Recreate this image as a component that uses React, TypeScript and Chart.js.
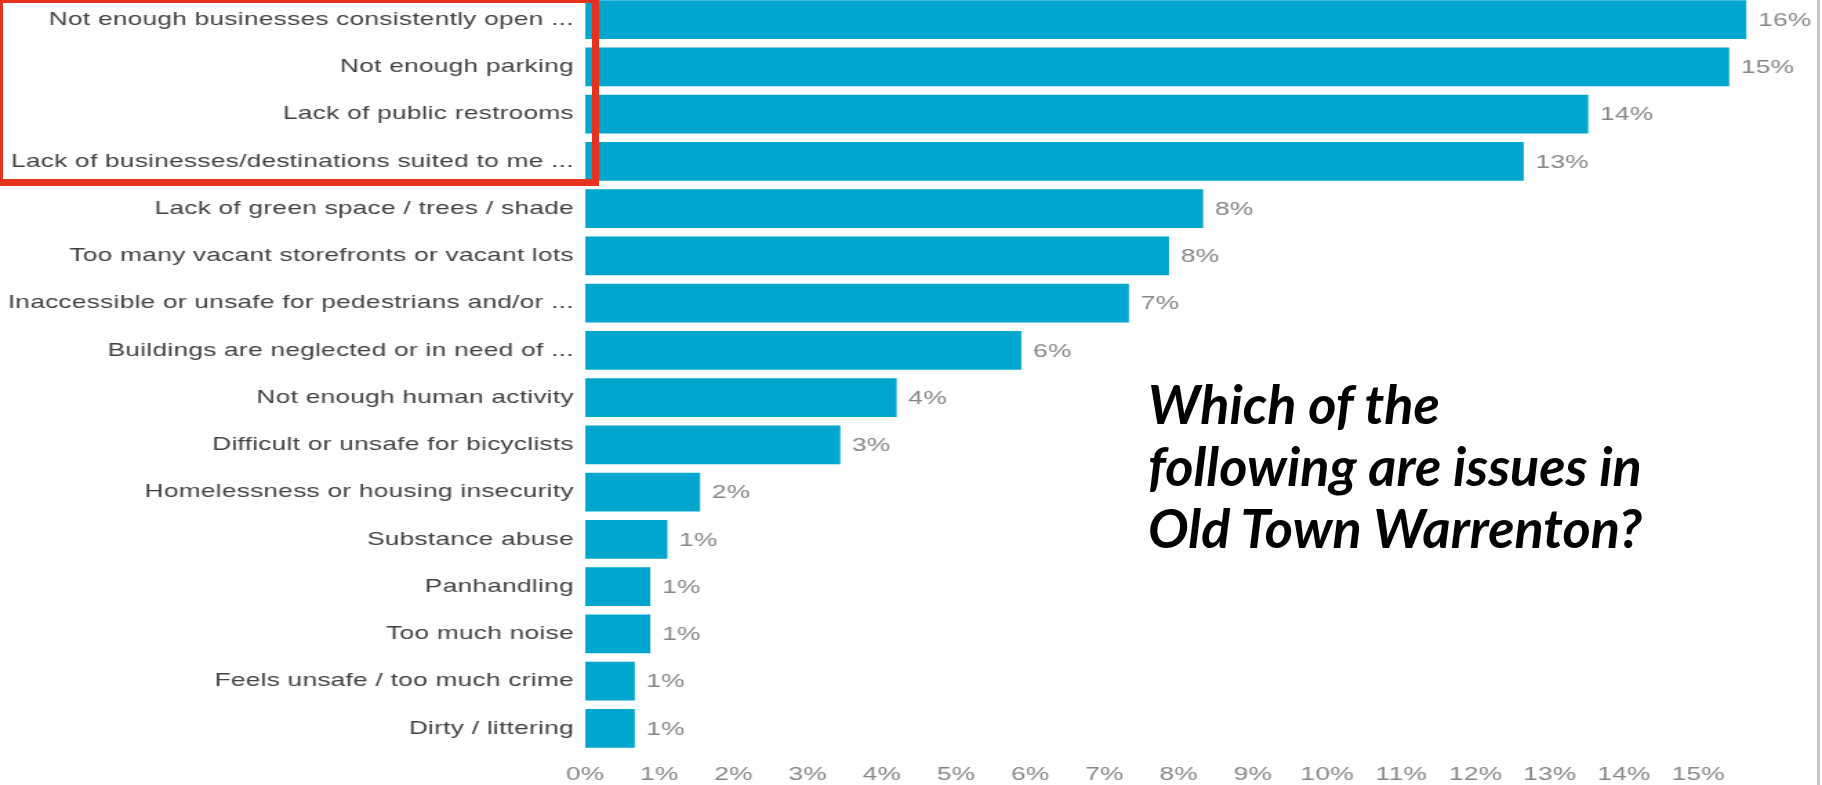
import React, { useEffect, useRef } from "react";
import { Chart, registerables } from "chart.js";

Chart.register(...registerables);

// ---------- data ----------
const categories: string[] = [
  "Not enough businesses consistently open ...",
  "Not enough parking",
  "Lack of public restrooms",
  "Lack of businesses/destinations suited to me ...",
  "Lack of green space / trees / shade",
  "Too many vacant storefronts or vacant lots",
  "Inaccessible or unsafe for pedestrians and/or ...",
  "Buildings are neglected or in need of ...",
  "Not enough human activity",
  "Difficult or unsafe for bicyclists",
  "Homelessness or housing insecurity",
  "Substance abuse",
  "Panhandling",
  "Too much noise",
  "Feels unsafe / too much crime",
  "Dirty / littering",
];

const values: number[] = [
  15.65, 15.42, 13.52, 12.65, 8.33, 7.87, 7.33, 5.88, 4.2, 3.44, 1.55, 1.11,
  0.88, 0.88, 0.67, 0.67,
];

const valueLabels: string[] = [
  "16%", "15%", "14%", "13%", "8%", "8%", "7%", "6%", "4%", "3%", "2%", "1%",
  "1%", "1%", "1%", "1%",
];

const xTickValues: number[] = [0, 1, 2, 3, 4, 5, 6, 7, 8, 9, 10, 11, 12, 13, 14, 15];

const titleLines: string[] = [
  "Which of the",
  "following are issues in",
  "Old Town Warrenton?",
];

// ---------- styling ----------
const FONT = '"Liberation Sans", Arial, Helvetica, sans-serif';
const BAR_COLOR = "#01a6cf";
const PAGE_W = 1822;
const CANVAS_W = 1320; // canvas is stretched horizontally to PAGE_W, like the original picture
const STRETCH = PAGE_W / CANVAS_W;
const CANVAS_H = 789;
const SPACING = "0.2px";

const spacingPlugin = {
  id: "letterSpacing",
  beforeUpdate(chart: any) {
    chart.ctx.letterSpacing = SPACING;
  },
  beforeLayout(chart: any) {
    chart.ctx.letterSpacing = SPACING;
  },
  beforeDraw(chart: any) {
    chart.ctx.letterSpacing = SPACING;
  },
};

const valueLabelPlugin = {
  id: "valueLabels",
  afterDatasetsDraw(chart: any) {
    const ctx = chart.ctx;
    const meta = chart.getDatasetMeta(0);
    ctx.save();
    ctx.letterSpacing = SPACING;
    ctx.font = `19px ${FONT}`;
    ctx.fillStyle = "#868686";
    ctx.textAlign = "left";
    ctx.textBaseline = "middle";
    meta.data.forEach((bar: any, i: number) => {
      ctx.fillText(valueLabels[i], bar.x + 8.5, bar.y + 1);
    });
    ctx.restore();
  },
};

export default function App() {
  const ref = useRef<HTMLCanvasElement>(null);

  useEffect(() => {
    document.body.style.overflow = "hidden";
    const canvas = ref.current!;
    const chart = new Chart(canvas, {
      type: "bar",
      data: {
        labels: categories,
        datasets: [
          {
            data: values,
            backgroundColor: BAR_COLOR,
            borderWidth: 0,
            barPercentage: 0.815,
            categoryPercentage: 1,
          },
        ],
      },
      options: {
        indexAxis: "y",
        responsive: false,
        animation: false,
        devicePixelRatio: 1,
        layout: { padding: { top: 0, right: 14.5, left: 0, bottom: 0 } },
        plugins: {
          legend: { display: false },
          tooltip: { enabled: false },
          title: { display: false },
        },
        scales: {
          x: {
            type: "linear",
            min: 0,
            max: 16.4,
            grid: { display: false, drawTicks: false },
            border: { display: false },
            afterBuildTicks(scale: any) {
              scale.ticks = xTickValues.map((v) => ({ value: v }));
            },
            afterFit(scale: any) {
              scale.height = 33;
              scale.paddingLeft = 0;
              scale.paddingRight = 0;
            },
            ticks: {
              padding: 11.5,
              color: "#878787",
              font: { family: FONT, size: 19 },
              callback: (v: any) => `${v}%`,
            },
          },
          y: {
            type: "category",
            grid: { display: false, drawTicks: false },
            border: { display: false },
            afterFit(scale: any) {
              scale.width = 585 / STRETCH;
              scale.paddingTop = 0;
              scale.paddingBottom = 0;
            },
            ticks: {
              padding: 8.1,
              color: "#424242",
              autoSkip: false,
              font: { family: FONT, size: 19 },
            },
          },
        },
      },
      plugins: [spacingPlugin, valueLabelPlugin],
    });
    return () => chart.destroy();
  }, []);

  return (
    <div
      style={{
        position: "absolute",
        left: 0,
        top: 0,
        width: PAGE_W,
        height: 785,
        overflow: "hidden",
        background: "#ffffff",
      }}
    >
      <canvas
        ref={ref}
        width={CANVAS_W}
        height={CANVAS_H}
        style={{
          position: "absolute",
          left: 0,
          top: -4,
          width: CANVAS_W,
          height: CANVAS_H,
          transform: `scaleX(${STRETCH})`,
          transformOrigin: "0 0",
        }}
      />
      <div
        style={{
          position: "absolute",
          left: -4,
          top: -4,
          width: 589,
          height: 176,
          border: "7px solid #e6321f",
        }}
      />
      <div
        style={{
          position: "absolute",
          left: 1148,
          top: 373,
          fontFamily: 'Lato, "Open Sans", sans-serif',
          fontWeight: 700,
          fontStyle: "italic",
          fontSize: 54,
          lineHeight: "62px",
          color: "#000000",
          whiteSpace: "nowrap",
        }}
      >
        {titleLines.map((t, i) => (
          <div key={i}>{t}</div>
        ))}
      </div>
      <div
        style={{
          position: "absolute",
          left: 1817,
          top: 0,
          width: 3,
          height: 785,
          background: "#c8c8c8",
        }}
      />
    </div>
  );
}
